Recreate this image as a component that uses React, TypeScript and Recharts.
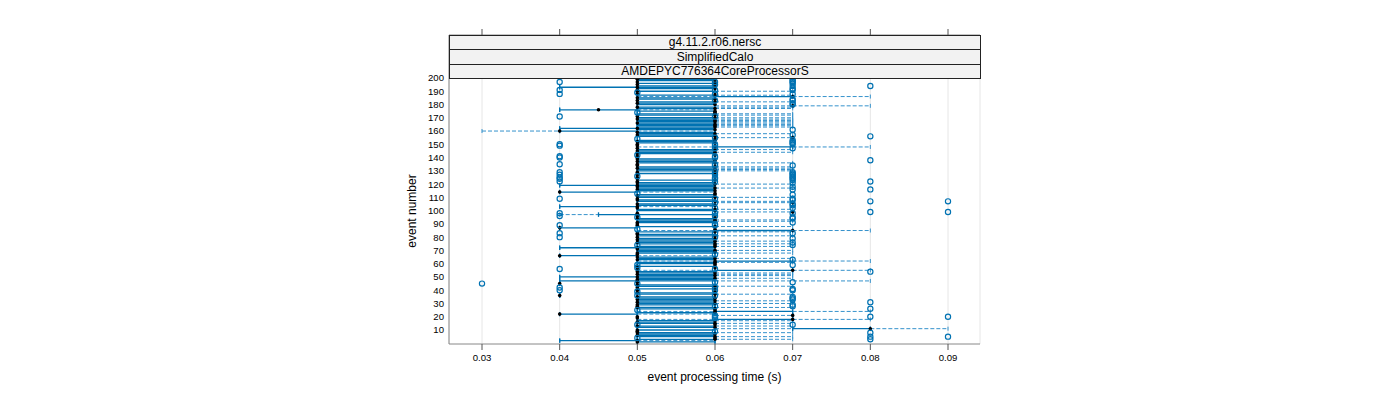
import React from 'react';
import { ScatterChart, Scatter, XAxis, YAxis, CartesianGrid, ErrorBar } from 'recharts';

const stripLabels = ['g4.11.2.r06.nersc', 'SimplifiedCalo', 'AMDEPYC776364CoreProcessorS'];
const timeTicks = [0.03, 0.04, 0.05, 0.06, 0.07, 0.08, 0.09];
const eventTicks = [10, 20, 30, 40, 50, 60, 70, 80, 90, 100, 110, 120, 130, 140, 150, 160, 170, 180, 190, 200];

// one row per event (1..200): lower whisker, box low, median, box high, upper whisker, in ms
const boxStats = [
  '50 50 50 60 60', '40 40 50 50 60', '50 50 60 60 70', '60 60 60 60 60', '50 50 60 60 70', '50 50 50 60 60', '50 50 60 60 60', '50 50 50 60 70', '50 50 50 50 50', '50 50 50 60 60',
  '60 70 80 80 90', '50 50 60 60 60', '50 50 50 60 70', '60 60 60 60 60', '50 50 60 60 70', '50 50 50 60 60', '50 50 60 60 70', '50 60 70 70 80', '50 50 50 50 50', '50 50 50 50 50',
  '60 70 70 70 70', '40 40 40 50 60', '50 50 60 60 60', '50 60 60 70 80', '60 60 60 60 60', '50 50 60 60 60', '50 50 50 60 70', '50 50 50 50 50', '50 50 50 60 60', '50 50 60 60 70',
  '50 50 50 60 60', '50 50 60 60 70', '50 50 50 60 60', '50 50 60 60 60', '50 50 50 60 60', '40 40 40 40 40', '50 50 60 60 70', '50 50 50 60 60', '60 60 60 60 60', '50 50 50 50 50',
  '50 50 60 60 60', '50 50 50 50 50', '50 50 60 60 70', '50 50 50 60 60', '40 40 40 40 40', '50 50 50 50 50', '40 40 50 60 80', '50 50 50 60 60', '50 50 60 60 70', '40 40 50 60 60',
  '50 50 60 60 70', '50 50 50 60 70', '50 50 60 60 70', '50 50 50 60 60', '50 60 70 70 80', '50 50 50 50 50', '60 60 60 60 60', '50 50 50 60 60', '60 60 60 60 60', '50 50 60 60 60',
  '50 50 60 60 70', '50 60 60 70 80', '50 50 50 60 60', '50 50 60 60 70', '50 50 50 60 60', '40 40 40 50 60', '50 50 50 50 50', '50 50 50 60 70', '50 50 60 60 60', '50 50 60 60 70',
  '50 50 50 60 60', '40 40 50 60 60', '50 50 60 60 70', '60 60 60 60 60', '50 50 60 60 70', '50 50 50 60 60', '50 50 60 60 70', '50 50 50 60 60', '50 50 60 60 60', '50 50 50 50 50',
  '50 50 60 60 70', '50 50 50 60 60', '50 50 50 50 50', '50 50 60 60 70', '50 60 70 70 80', '60 60 60 60 60', '40 40 40 50 50', '50 50 60 60 70', '50 50 50 50 50', '50 50 50 50 50',
  '50 50 50 60 60', '50 50 60 60 70', '50 50 60 60 70', '50 50 50 60 60', '60 60 60 60 60', '50 50 50 50 50', '40 45 50 60 60', '50 50 50 50 50', '60 70 70 70 70', '50 50 60 60 60',
  '50 50 60 60 70', '50 50 50 50 50', '40 40 50 50 60', '50 50 60 60 60', '50 50 50 60 60', '60 70 70 70 70', '50 50 60 60 70', '50 50 50 60 60', '50 50 50 50 50', '50 50 60 60 70',
  '50 50 50 60 60', '50 50 60 60 60', '60 60 60 60 60', '40 40 40 50 60', '50 50 60 60 60', '50 50 50 60 60', '50 50 60 60 70', '50 50 50 60 60', '40 40 50 60 60', '50 50 60 60 70',
  '50 50 50 60 60', '50 50 50 50 50', '50 50 60 60 60', '50 50 50 50 50', '50 50 50 50 50', '60 60 60 60 60', '50 50 50 50 50', '50 50 60 60 60', '50 50 50 50 50', '50 50 60 60 70',
  '50 50 60 60 70', '50 50 50 60 70', '50 50 60 60 70', '50 50 50 50 50', '50 50 50 50 50', '50 50 60 60 70', '50 50 50 60 60', '50 50 60 60 60', '50 50 50 60 60', '50 50 50 50 50',
  '50 50 50 50 50', '60 60 60 60 60', '50 50 50 60 60', '50 50 60 60 70', '50 50 50 60 60', '50 50 60 60 70', '50 50 50 50 50', '50 60 60 70 80', '50 50 50 50 50', '50 50 50 50 50',
  '50 50 60 60 60', '50 50 50 60 60', '50 50 60 60 60', '60 60 60 60 60', '60 70 70 70 70', '50 50 60 60 60', '50 50 50 60 60', '50 50 60 60 70', '50 50 50 60 60', '30 40 40 50 60',
  '50 50 60 60 60', '40 40 50 60 60', '50 50 60 60 70', '50 50 60 60 70', '50 50 60 60 70', '50 50 50 60 70', '50 50 60 60 70', '50 50 60 60 70', '50 50 50 60 70', '50 50 60 60 70',
  '50 50 50 50 50', '50 50 60 60 70', '50 50 60 60 70', '60 60 60 60 60', '50 50 60 60 60', '40 40 45 50 60', '50 50 60 60 70', '50 50 50 60 70', '60 70 70 70 80', '50 50 60 60 60',
  '50 50 50 60 60', '50 50 60 60 70', '50 50 50 50 50', '50 50 60 60 60', '50 50 50 60 60', '50 60 70 70 80', '50 50 60 60 70', '50 50 50 50 50', '60 60 60 60 60', '50 50 50 60 70',
  '50 50 50 50 50', '50 50 60 60 60', '40 40 50 60 60', '50 50 60 60 60', '50 50 50 50 50', '50 50 60 60 60', '50 50 50 50 50', '50 50 60 60 60', '50 50 50 60 60', '50 50 60 60 60',
];

// [event, outlying times in ms]
const outliers: [number, number[]][] = [
  [3, [80]], [4, [50]], [5, [80, 90]], [8, [80]], [9, [60]], [14, [50, 70]], [19, [60]], [20, [60, 80, 90]],
  [21, [60]], [25, [50]], [26, [80]], [28, [60, 70]], [29, [70]], [31, [80]], [33, [70]], [34, [70]], [35, [70]],
  [36, [50, 60]], [39, [50]], [40, [40, 60, 70]], [41, [70]], [42, [40, 60]], [45, [30, 50]], [46, [60, 70]], [54, [80]],
  [56, [40, 60]], [57, [50]], [59, [50, 70]], [63, [70]], [67, [60]], [74, [50, 70]], [76, [70]], [79, [70]],
  [80, [40, 60]], [83, [40, 60, 70]], [86, [50]], [89, [40, 60]], [90, [60]], [91, [70]], [94, [70]], [95, [50, 70]],
  [96, [40, 60]], [98, [40, 60, 70]], [99, [80, 90]], [102, [60, 70]], [104, [70]], [105, [70]], [106, [60]], [107, [80, 90]],
  [108, [70]], [109, [40, 60, 70]], [112, [70]], [113, [50]], [116, [70, 80]], [118, [70]], [121, [70]], [122, [40, 60, 80]],
  [123, [70]], [124, [40, 60, 70]], [125, [40, 60, 70]], [126, [50, 70]], [127, [40, 60, 70]], [128, [70]], [129, [40, 60, 70]],
  [134, [60, 70]], [135, [40, 60]], [138, [80]], [140, [40, 60]], [141, [40, 60]], [142, [50]], [147, [60, 70]], [149, [40, 60]],
  [150, [40, 60, 70]], [151, [70]], [152, [70]], [153, [70]], [154, [50]], [155, [60]], [156, [80]], [157, [70]], [161, [70]],
  [171, [40, 60]], [174, [50]], [180, [70]], [181, [70]], [183, [60, 70]], [184, [70]], [188, [40, 60, 70]], [189, [50]],
  [191, [40, 60, 70]], [192, [70]], [194, [70, 80]], [195, [60]], [196, [70]], [197, [40, 60, 70]], [198, [70]], [199, [70]],
];

const BLUE = '#0072B2';
const DASH_BLUE = '#3592cc';
const FONT = '"Liberation Sans", Arial, sans-serif';

const rows = boxStats.map((s, i) => {
  const [lo, q1, med, q3, hi] = s.split(' ').map((v) => Number(v) / 1000);
  return { event: i + 1, lo, q1, med, q3, hi };
});
const lowWhiskers = rows.map((r) => ({ x: r.q1, y: r.event, err: [r.q1 - r.lo, 0] }));
const highWhiskers = rows.map((r) => ({ x: r.q3, y: r.event, err: [0, r.hi - r.q3] }));
const boxes = rows.map((r) => ({ x: r.q1, y: r.event, err: [0, r.q3 - r.q1] }));
const medians = rows.map((r) => ({ x: r.med, y: r.event }));
const outlierPoints = outliers.flatMap(([ev, ts]) => ts.map((t) => ({ x: t / 1000, y: ev })));

const Nothing = () => <g />;
const MedianDot = (p: any) => <circle cx={p.cx} cy={p.cy} r={1.8} fill="#000" />;
const OpenDot = (p: any) => <circle cx={p.cx} cy={p.cy} r={2.6} fill="none" stroke={BLUE} strokeWidth={1.2} />;

const XTitle = (props: any) => {
  const vb = props.viewBox || {};
  return (
    <text x={vb.x + vb.width / 2} y={vb.y + 33} textAnchor="middle" dominantBaseline="central" fontSize={12} fill="#000" fontFamily={FONT}>
      event processing time (s)
    </text>
  );
};

const YTitle = (props: any) => {
  const vb = props.viewBox || {};
  const x = vb.x + 23;
  const y = vb.y + (vb.height + 43) / 2;
  return (
    <text x={x} y={y} transform={`rotate(-90, ${x}, ${y})`} textAnchor="middle" dominantBaseline="central" fontSize={12} fill="#000" fontFamily={FONT}>
      event number
    </text>
  );
};

const tickStyle = { fontSize: 9.6, fill: '#000', fontFamily: FONT };

export default function App() {
  return (
    <div style={{ position: 'relative', width: 1384, height: 392, fontFamily: FONT }}>
      <ScatterChart width={1384} height={392} margin={{ top: 17, right: 412, bottom: 10, left: 381 }}>
        <CartesianGrid xAxisId="b" yAxisId="l" horizontal={false} stroke="#e6e6e6" />
        <XAxis
          xAxisId="b"
          type="number"
          dataKey="x"
          domain={[0.02575, 0.09412]}
          allowDataOverflow
          ticks={timeTicks}
          interval={0}
          tickFormatter={(v: number) => v.toFixed(2)}
          tick={tickStyle}
          tickSize={6}
          tickMargin={4}
          height={46}
          stroke="#888"
          tickLine={{ stroke: '#555' }}
          label={XTitle}
        />
        <XAxis
          xAxisId="t"
          orientation="top"
          type="number"
          dataKey="x"
          domain={[0.02575, 0.09412]}
          allowDataOverflow
          ticks={timeTicks}
          interval={0}
          tickFormatter={() => ''}
          tickSize={6}
          height={10}
          stroke="#888"
          tickLine={{ stroke: '#555' }}
        />
        <YAxis
          yAxisId="l"
          type="number"
          dataKey="y"
          domain={[-0.55, 232.4]}
          allowDataOverflow
          ticks={eventTicks}
          interval={0}
          tick={tickStyle}
          tickLine={false}
          tickSize={0}
          tickMargin={5}
          width={60}
          stroke="#888"
          label={YTitle}
        />
        <YAxis
          yAxisId="r"
          orientation="right"
          type="number"
          dataKey="y"
          domain={[-0.55, 232.4]}
          allowDataOverflow
          tick={false}
          tickLine={false}
          width={0}
          stroke="#888"
        />
        <Scatter xAxisId="t" yAxisId="r" data={medians} shape={Nothing} isAnimationActive={false} />
        <Scatter xAxisId="b" yAxisId="l" data={lowWhiskers} shape={Nothing} isAnimationActive={false}>
          <ErrorBar dataKey="err" direction="x" width={2} stroke={DASH_BLUE} strokeWidth={1} strokeDasharray="4 2" isAnimationActive={false} />
        </Scatter>
        <Scatter xAxisId="b" yAxisId="l" data={highWhiskers} shape={Nothing} isAnimationActive={false}>
          <ErrorBar dataKey="err" direction="x" width={2} stroke={DASH_BLUE} strokeWidth={1} strokeDasharray="4 2" isAnimationActive={false} />
        </Scatter>
        <Scatter xAxisId="b" yAxisId="l" data={boxes} shape={Nothing} isAnimationActive={false}>
          <ErrorBar dataKey="err" direction="x" width={2.2} stroke={BLUE} strokeWidth={1.3} isAnimationActive={false} />
        </Scatter>
        <Scatter xAxisId="b" yAxisId="l" data={medians} shape={MedianDot} isAnimationActive={false} />
        <Scatter xAxisId="b" yAxisId="l" data={outlierPoints} shape={OpenDot} isAnimationActive={false} />
      </ScatterChart>
      <div
        style={{
          position: 'absolute',
          left: 441,
          top: 27,
          width: 532,
          boxSizing: 'border-box',
          borderTop: '1px solid #222',
          fontSize: 12,
          color: '#000',
        }}
      >
        {stripLabels.map((s, i) => (
          <div
            key={s}
            style={{
              height: i === 1 ? 14 : 13,
              lineHeight: `${i === 1 ? 14 : 13}px`,
              borderLeft: '1px solid #222',
              borderRight: '1px solid #222',
              borderBottom: '1px solid #222',
              background: '#f2f2f2',
              textAlign: 'center',
              whiteSpace: 'nowrap',
            }}
          >
            {s}
          </div>
        ))}
      </div>
    </div>
  );
}
